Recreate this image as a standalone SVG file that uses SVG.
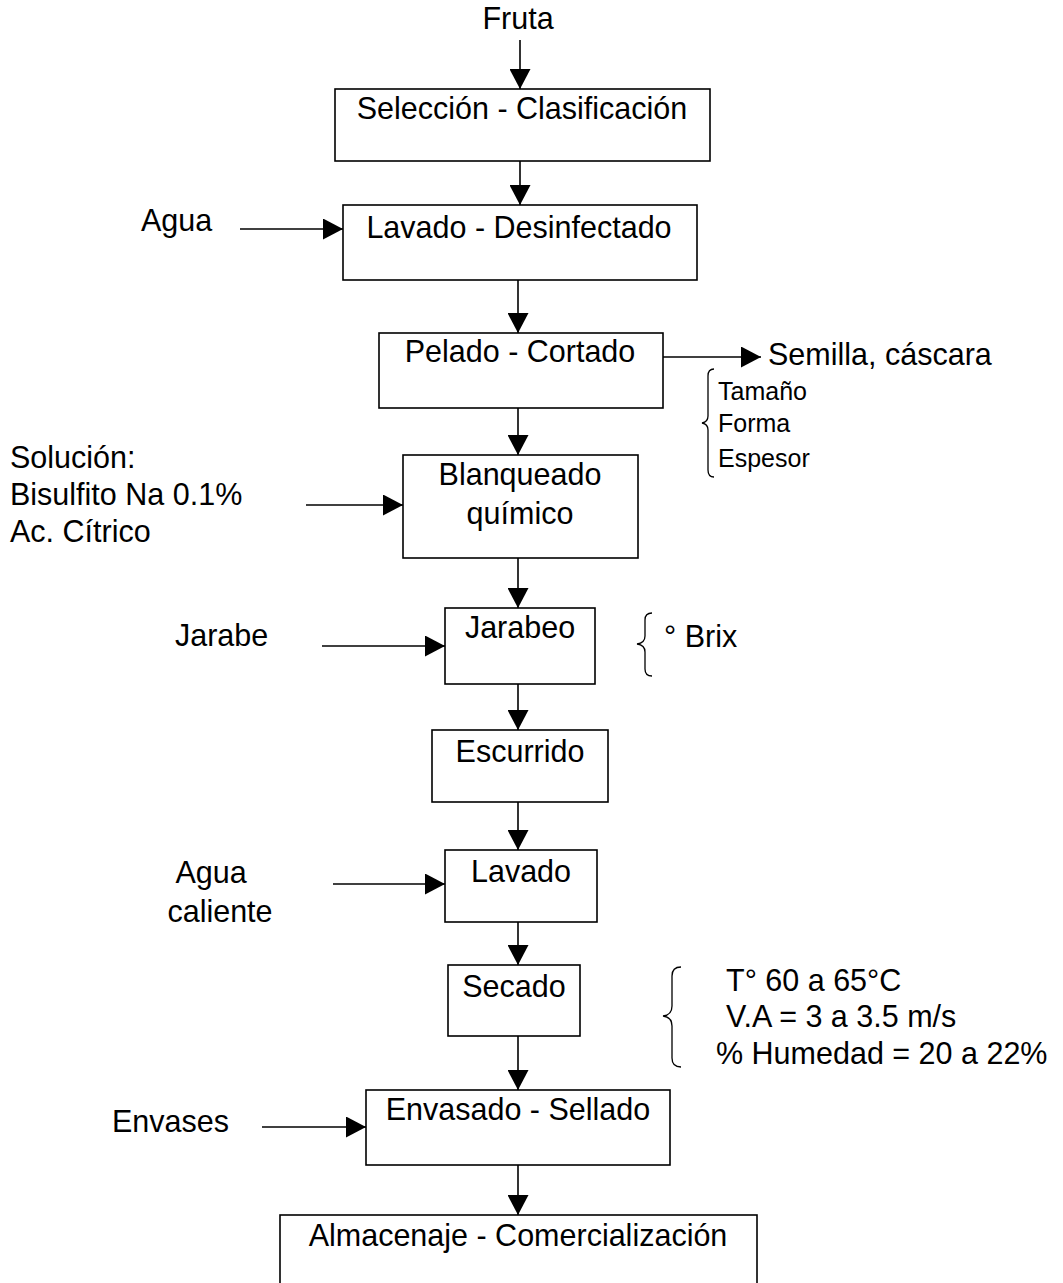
<svg xmlns="http://www.w3.org/2000/svg" width="1063" height="1283" viewBox="0 0 1063 1283">
  <style>
    text { font-family: "Liberation Sans", Arial, sans-serif; fill: #000; }
    .t { font-size: 30.5px; }
    .s { font-size: 25px; }
    .c { text-anchor: middle; }
    .box { fill: #fff; stroke: #000; stroke-width: 1.6; }
    .ln { fill: none; stroke: #000; stroke-width: 1.6; }
    .br { fill: none; stroke: #000; stroke-width: 1.3; }
  </style>
  <defs>
    <marker id="arr" markerUnits="userSpaceOnUse" markerWidth="21" markerHeight="21" refX="20" refY="10.5" orient="auto">
      <path d="M0,0 L20,10.5 L0,21 Z" fill="#000"/>
    </marker>
  </defs>
  <rect width="1063" height="1283" fill="#fff"/>

  <!-- connectors -->
  <g id="connectors">
    <line class="ln" x1="520" y1="40" x2="520" y2="89" marker-end="url(#arr)"/>
    <line class="ln" x1="520" y1="161" x2="520" y2="205" marker-end="url(#arr)"/>
    <line class="ln" x1="240" y1="229" x2="343" y2="229" marker-end="url(#arr)"/>
    <line class="ln" x1="518" y1="280" x2="518" y2="333" marker-end="url(#arr)"/>
    <line class="ln" x1="663" y1="357" x2="761" y2="357" marker-end="url(#arr)"/>
    <line class="ln" x1="518" y1="408" x2="518" y2="455" marker-end="url(#arr)"/>
    <line class="ln" x1="306" y1="505" x2="403" y2="505" marker-end="url(#arr)"/>
    <line class="ln" x1="518" y1="558" x2="518" y2="608" marker-end="url(#arr)"/>
    <line class="ln" x1="322" y1="646" x2="445" y2="646" marker-end="url(#arr)"/>
    <line class="ln" x1="518" y1="684" x2="518" y2="730" marker-end="url(#arr)"/>
    <line class="ln" x1="518" y1="802" x2="518" y2="850" marker-end="url(#arr)"/>
    <line class="ln" x1="333" y1="884" x2="445" y2="884" marker-end="url(#arr)"/>
    <line class="ln" x1="518" y1="922" x2="518" y2="965" marker-end="url(#arr)"/>
    <line class="ln" x1="518" y1="1036" x2="518" y2="1090" marker-end="url(#arr)"/>
    <line class="ln" x1="262" y1="1127" x2="366" y2="1127" marker-end="url(#arr)"/>
    <line class="ln" x1="518" y1="1165" x2="518" y2="1215" marker-end="url(#arr)"/>
  </g>

  <!-- inputs and outputs -->
  <g id="in-fruta"><text class="t c" x="518" y="29">Fruta</text></g>
  <g id="in-agua"><text class="t" x="141" y="231">Agua</text></g>
  <g id="out-semilla"><text class="t" x="768" y="365">Semilla, cáscara</text></g>
  <g id="note-corte">
    <path class="br" d="M714,369 Q708,369 708,376 L708,416 Q708,422 702,423 Q708,424 708,430 L708,470 Q708,477 714,477"/>
    <text class="s" x="718" y="400">Tamaño</text>
    <text class="s" x="718" y="432">Forma</text>
    <text class="s" x="718" y="467">Espesor</text>
  </g>
  <g id="in-solucion">
    <text class="t" x="10" y="468">Solución:</text>
    <text class="t" x="10" y="505">Bisulfito Na 0.1%</text>
    <text class="t" x="10" y="542">Ac. Cítrico</text>
  </g>
  <g id="in-jarabe"><text class="t" x="175" y="646">Jarabe</text></g>
  <g id="note-brix">
    <path class="br" d="M652,613 Q645,613 645,620 L645,636 Q645,643 637,644 Q645,645 645,652 L645,669 Q645,676 652,676"/>
    <text class="t" x="664" y="647">° Brix</text>
  </g>
  <g id="in-agua-caliente">
    <text class="t c" x="211" y="883">Agua</text>
    <text class="t c" x="220" y="922">caliente</text>
  </g>
  <g id="note-secado">
    <path class="br" d="M681,967 Q672,967 672,976 L672,1006 Q672,1015 663,1016 Q672,1017 672,1026 L672,1058 Q672,1067 681,1067"/>
    <text class="t" x="726" y="991">T° 60 a 65°C</text>
    <text class="t" x="726" y="1027">V.A = 3 a 3.5 m/s</text>
    <text class="t" x="716" y="1064">% Humedad = 20 a 22%</text>
  </g>
  <g id="in-envases"><text class="t" x="112" y="1132">Envases</text></g>

  <!-- process steps -->
  <g id="n-seleccion">
    <rect class="box" x="335" y="89" width="375" height="72"/>
    <text class="t c" x="522" y="119">Selección - Clasificación</text>
  </g>
  <g id="n-lavado-desinf">
    <rect class="box" x="343" y="205" width="354" height="75"/>
    <text class="t c" x="519" y="238">Lavado - Desinfectado</text>
  </g>
  <g id="n-pelado">
    <rect class="box" x="379" y="333" width="284" height="75"/>
    <text class="t c" x="520" y="362">Pelado - Cortado</text>
  </g>
  <g id="n-blanqueado">
    <rect class="box" x="403" y="455" width="235" height="103"/>
    <text class="t c" x="520" y="485">Blanqueado</text>
    <text class="t c" x="520" y="524">químico</text>
  </g>
  <g id="n-jarabeo">
    <rect class="box" x="445" y="608" width="150" height="76"/>
    <text class="t c" x="520" y="638">Jarabeo</text>
  </g>
  <g id="n-escurrido">
    <rect class="box" x="432" y="730" width="176" height="72"/>
    <text class="t c" x="520" y="762">Escurrido</text>
  </g>
  <g id="n-lavado">
    <rect class="box" x="445" y="850" width="152" height="72"/>
    <text class="t c" x="521" y="882">Lavado</text>
  </g>
  <g id="n-secado">
    <rect class="box" x="448" y="965" width="132" height="71"/>
    <text class="t c" x="514" y="997">Secado</text>
  </g>
  <g id="n-envasado">
    <rect class="box" x="366" y="1090" width="304" height="75"/>
    <text class="t c" x="518" y="1120">Envasado - Sellado</text>
  </g>
  <g id="n-almacenaje">
    <rect class="box" x="280" y="1215" width="477" height="90"/>
    <text class="t c" x="518" y="1246">Almacenaje - Comercialización</text>
  </g>
</svg>
